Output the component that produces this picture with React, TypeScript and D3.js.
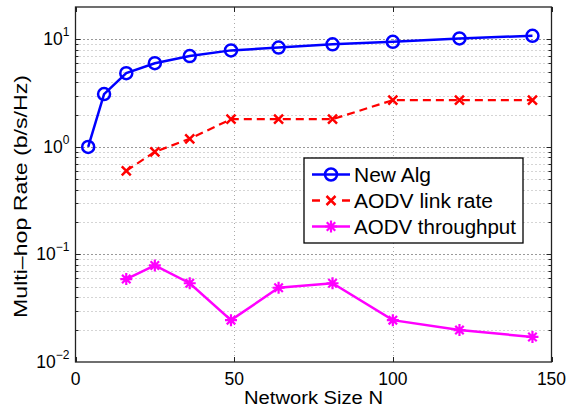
import React, { useRef, useEffect } from 'react';
import * as d3 from 'd3';

const networkSize = [4, 9, 16, 25, 36, 49, 64, 81, 100, 121, 144];
const newAlg = [1.0, 3.1, 4.85, 6.0, 7.0, 7.9, 8.4, 9.0, 9.5, 10.2, 10.8];
const aodvSize = [16, 25, 36, 49, 64, 81, 100, 121, 144];
const aodvLinkRate = [0.6, 0.9, 1.19, 1.81, 1.81, 1.81, 2.72, 2.72, 2.72];
const aodvThroughput = [0.059, 0.079, 0.054, 0.0245, 0.049, 0.054, 0.0245, 0.0198, 0.0171];
const xTicks = [0, 50, 100, 150];
const yExponents = [-2, -1, 0, 1];
const legendLabels = ['New Alg', 'AODV link rate', 'AODV throughput'];
// measured text widths in the reference (px)
const legendWidths = [77, 139, 162];

const FONT = 'Liberation Sans, Arial, Helvetica, sans-serif';

const App: React.FC = () => {
    const svgRef = useRef<SVGSVGElement>(null);

    useEffect(() => {
        if (!svgRef.current) return;
        const svg = d3.select(svgRef.current);
        svg.selectAll('*').remove();

        const left = 75.5, right = 551.5, top = 7, bottom = 362;

        const x = d3.scaleLinear().domain([0, 150]).range([left, right]);
        const y = d3.scaleLog().domain([0.01, 20]).range([bottom, top]);

        const isMajor = (v: number) => Math.abs(Math.log10(v) - Math.round(Math.log10(v))) < 1e-9;

        const grid = svg.append('g');
        // minor + major horizontal grid (log)
        const minorVals: number[] = [];
        for (let e = -2; e <= 1; e++) {
            for (let m = 1; m <= 9; m++) {
                const v = m * Math.pow(10, e);
                if (v > 0.01 && v < 20) minorVals.push(v);
            }
        }
        grid.selectAll('line.h')
            .data(minorVals)
            .join('line')
            .attr('x1', left).attr('x2', right)
            .attr('y1', d => Math.round(y(d)) + 0.5).attr('y2', d => Math.round(y(d)) + 0.5)
            .attr('stroke', d => (isMajor(d) ? '#333' : '#aaa'))
            .attr('stroke-width', 1)
            .attr('stroke-dasharray', '1,3');
        grid.selectAll('line.v')
            .data([50, 100])
            .join('line')
            .attr('x1', d => Math.round(x(d)) + 0.5).attr('x2', d => Math.round(x(d)) + 0.5)
            .attr('y1', top).attr('y2', bottom)
            .attr('stroke', '#aaa')
            .attr('stroke-dasharray', '1,3');

        // axis box
        svg.append('rect')
            .attr('x', left).attr('y', top)
            .attr('width', right - left).attr('height', bottom - top)
            .attr('fill', 'none').attr('stroke', '#222').attr('stroke-width', 1.3);

        // ticks
        const ticks = svg.append('g').attr('stroke', '#222').attr('stroke-width', 1);
        minorVals.forEach(v => {
            const len = isMajor(v) ? 5 : 3;
            const yy = Math.round(y(v)) + 0.5;
            ticks.append('line').attr('x1', left).attr('x2', left + len).attr('y1', yy).attr('y2', yy);
            ticks.append('line').attr('x1', right - len).attr('x2', right).attr('y1', yy).attr('y2', yy);
        });
        xTicks.forEach(t => {
            const xx = Math.round(x(t)) + 0.5;
            ticks.append('line').attr('x1', xx).attr('x2', xx).attr('y1', bottom).attr('y2', bottom - 5);
            ticks.append('line').attr('x1', xx).attr('x2', xx).attr('y1', top).attr('y2', top + 5);
        });

        // x tick labels
        svg.append('g').selectAll('text')
            .data(xTicks)
            .join('text')
            .attr('x', d => x(d))
            .attr('y', 385)
            .attr('text-anchor', 'middle')
            .attr('font-family', FONT)
            .attr('font-size', 17.5)
            .attr('fill', '#000')
            .text(d => String(d));

        // y tick labels 10^k
        yExponents.forEach(e => {
            const t = svg.append('text')
                .attr('x', left - 6)
                .attr('y', y(Math.pow(10, e)) + 6)
                .attr('text-anchor', 'end')
                .attr('font-family', FONT)
                .attr('font-size', 17.5)
                .attr('fill', '#000');
            t.append('tspan').text('10');
            t.append('tspan')
                .attr('dy', -9)
                .attr('font-size', 12)
                .text(e < 0 ? `\u2212${-e}` : String(e));
        });

        // axis labels
        svg.append('text')
            .attr('x', 244)
            .attr('y', 404)
            .attr('font-family', FONT)
            .attr('font-size', 18)
            .attr('textLength', 139)
            .attr('lengthAdjust', 'spacingAndGlyphs')
            .text('Network Size N');
        svg.append('text')
            .attr('transform', `translate(27,318) rotate(-90)`)
            .attr('font-family', FONT)
            .attr('font-size', 18.5)
            .attr('textLength', 243)
            .attr('lengthAdjust', 'spacingAndGlyphs')
            .text('Multi\u2013hop Rate (b/s/Hz)');

        const line = d3.line<[number, number]>().x(d => x(d[0])).y(d => y(d[1]));

        const blue = '#0000ff', red = '#ff0000', magenta = '#ff00ff';

        const drawCircle = (g: any, cx: number, cy: number) =>
            g.append('circle').attr('cx', cx).attr('cy', cy).attr('r', 6)
                .attr('fill', 'none').attr('stroke', blue).attr('stroke-width', 2.5);
        const drawCross = (g: any, cx: number, cy: number) => {
            const s = 4.5;
            g.append('path')
                .attr('d', `M${cx - s},${cy - s}L${cx + s},${cy + s}M${cx - s},${cy + s}L${cx + s},${cy - s}`)
                .attr('stroke', red).attr('stroke-width', 2.5).attr('fill', 'none');
        };
        const drawStar = (g: any, cx: number, cy: number) => {
            const s = 6, d = s * 0.7071;
            g.append('path')
                .attr('d', `M${cx - s},${cy}L${cx + s},${cy}M${cx},${cy - s}L${cx},${cy + s}M${cx - d},${cy - d}L${cx + d},${cy + d}M${cx - d},${cy + d}L${cx + d},${cy - d}`)
                .attr('stroke', magenta).attr('stroke-width', 2.2).attr('fill', 'none');
        };

        const series = svg.append('g');
        const bluePts = networkSize.map((n, i) => [n, newAlg[i]] as [number, number]);
        const redPts = aodvSize.map((n, i) => [n, aodvLinkRate[i]] as [number, number]);
        const magPts = aodvSize.map((n, i) => [n, aodvThroughput[i]] as [number, number]);

        series.append('path').attr('d', line(bluePts)).attr('fill', 'none')
            .attr('stroke', blue).attr('stroke-width', 2.5);
        bluePts.forEach(p => drawCircle(series, x(p[0]), y(p[1])));

        series.append('path').attr('d', line(redPts)).attr('fill', 'none')
            .attr('stroke', red).attr('stroke-width', 2.2).attr('stroke-dasharray', '8,5');
        redPts.forEach(p => drawCross(series, x(p[0]), y(p[1])));

        series.append('path').attr('d', line(magPts)).attr('fill', 'none')
            .attr('stroke', magenta).attr('stroke-width', 2.5);
        magPts.forEach(p => drawStar(series, x(p[0]), y(p[1])));

        // legend
        const lg = svg.append('g');
        lg.append('rect')
            .attr('x', 304).attr('y', 158)
            .attr('width', 219).attr('height', 85)
            .attr('fill', '#fff').attr('stroke', '#000').attr('stroke-width', 1.3);
        const entries = [
            { color: blue, dash: false, mark: drawCircle },
            { color: red, dash: true, mark: drawCross },
            { color: magenta, dash: false, mark: drawStar },
        ];
        entries.forEach((e, i) => {
            const ly = 174.5 + i * 26;
            if (e.dash) {
                lg.append('line').attr('x1', 312).attr('x2', 320).attr('y1', ly).attr('y2', ly)
                    .attr('stroke', e.color).attr('stroke-width', 2.5);
                lg.append('line').attr('x1', 342).attr('x2', 350).attr('y1', ly).attr('y2', ly)
                    .attr('stroke', e.color).attr('stroke-width', 2.5);
            } else {
                lg.append('line')
                    .attr('x1', 312).attr('x2', 350).attr('y1', ly).attr('y2', ly)
                    .attr('stroke', e.color).attr('stroke-width', 2.5);
            }
            e.mark(lg, 331, ly);
            lg.append('text')
                .attr('x', 354).attr('y', ly + 7)
                .attr('font-family', FONT).attr('font-size', 19.5)
                .attr('textLength', legendWidths[i])
                .attr('lengthAdjust', 'spacingAndGlyphs')
                .attr('fill', '#000')
                .text(legendLabels[i]);
        });
    }, []);

    return (
        <div style={{ position: 'absolute', left: 0, top: 0 }}>
            <svg ref={svgRef} width={577} height={407} style={{ display: 'block', background: '#fff' }} />
        </div>
    );
};

export default App;
